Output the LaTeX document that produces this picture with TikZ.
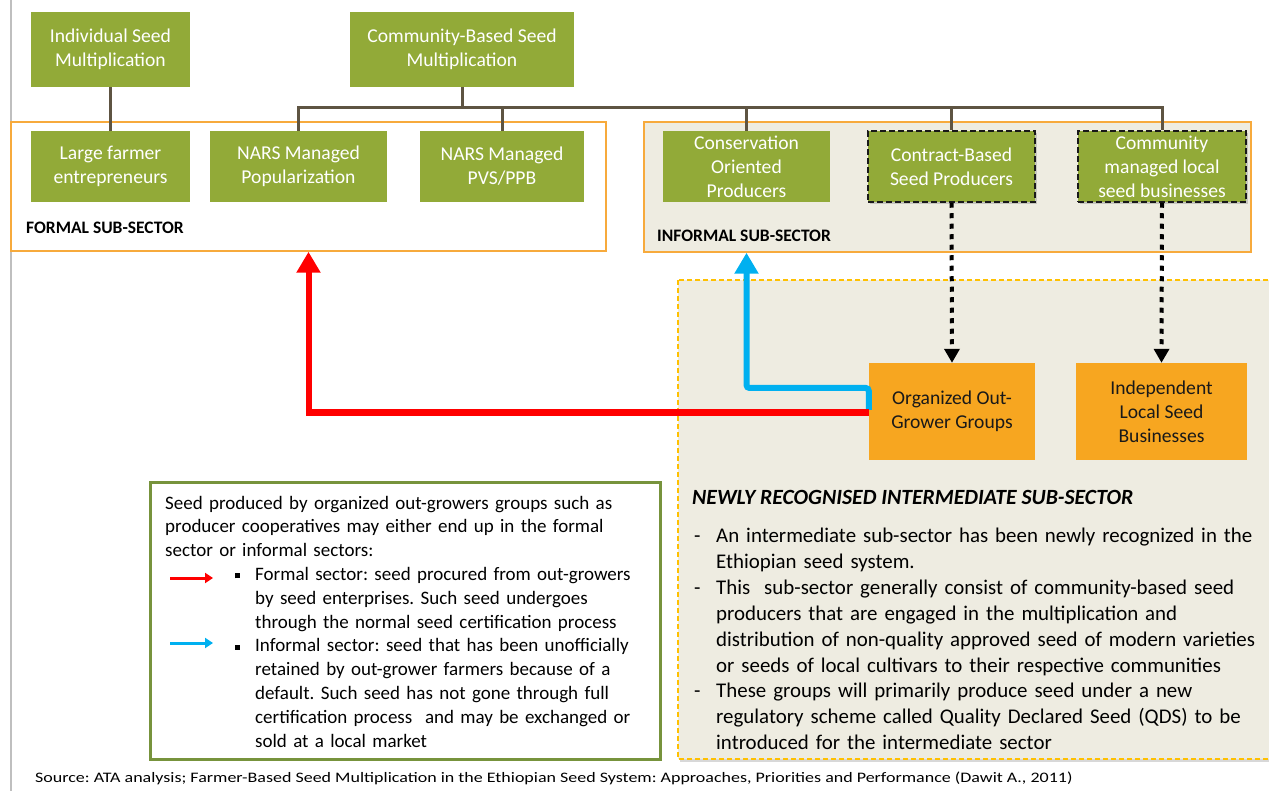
\documentclass[tikz,border=0pt]{standalone}
\usepackage{fontspec}
\setmainfont{Carlito}
\usepackage{xcolor}
\usepackage{tikz}
\usetikzlibrary{arrows.meta,shadows}

\definecolor{seedgreen}{RGB}{146,170,56}
\definecolor{legendgreen}{RGB}{119,147,60}
\definecolor{seedorange}{RGB}{247,166,32}
\definecolor{frameorange}{RGB}{247,170,60}
\definecolor{dashorange}{RGB}{255,192,0}
\definecolor{sectorbeige}{RGB}{238,236,225}
\definecolor{treebrown}{RGB}{94,84,66}
\definecolor{flowred}{RGB}{255,0,0}
\definecolor{flowblue}{RGB}{0,176,240}

\begin{document}
\frenchspacing
\begin{tikzpicture}[x=1pt, y=-1pt,
    boxfont/.style={font=\fontsize{19.6}{24}\selectfont},
    greenbox/.style={boxfont, fill=seedgreen, text=white, align=center, inner sep=0pt},
    orangebox/.style={boxfont, fill=seedorange, text=black!90, align=center, inner sep=0pt},
    dashbox/.style={draw=black!90, line width=1.5pt, dash pattern=on 6pt off 3pt,
        drop shadow={opacity=0.35, shadow xshift=2pt, shadow yshift=-2pt}},
    sector/.style={draw=frameorange, line width=1.5pt, inner sep=0pt},
    sectorlabel/.style={font=\fontsize{17.5}{20}\bfseries\selectfont, anchor=west, inner sep=0pt},
    tree/.style={draw=treebrown, line width=3pt},
    dotflow/.style={line width=4pt, dash pattern=on 5pt off 5.5pt, -{Triangle[width=15pt,length=14pt]}},
    redflow/.style={draw=flowred, line width=6pt, -{Triangle[width=23pt,length=21pt]}},
    blueflow/.style={draw=flowblue, line width=6pt, rounded corners=3pt, -{Triangle[width=23pt,length=21pt]}},
    bodytext/.style={inner sep=0pt, align=left, anchor=base west}
]
\useasboundingbox (0,0) rectangle (1269,791);
\fill[white] (0,0) rectangle (1269,791);
\draw[black!25, line width=2pt] (11,0) -- (11,791);

% sector frames
\node[sector, fill=white, minimum width=595pt, minimum height=129pt] (formal) at (308.5,186.5) {};
\node[sector, fill=sectorbeige, minimum width=607pt, minimum height=130pt] (informal) at (947.5,187) {};
\filldraw[draw=dashorange, fill=sectorbeige, line width=1.5pt, dash pattern=on 5pt off 3pt,
    drop shadow={opacity=0.3, shadow xshift=2pt, shadow yshift=-3pt}] (678,280) rectangle (1290,759);
\node[sectorlabel] (formallabel) at (26,228) {FORMAL SUB-SECTOR};
\node[sectorlabel] (informallabel) at (657,236) {INFORMAL SUB-SECTOR};

% green boxes
\node[greenbox, minimum width=159pt, minimum height=75pt] (indiv) at (110.5,49.5) {Individual Seed\\Multiplication};
\node[greenbox, minimum width=224pt, minimum height=75pt] (community) at (462,49.5) {Community-Based Seed\\Multiplication};
\node[greenbox, minimum width=159pt, minimum height=71pt] (large) at (110.5,166.5) {Large farmer\\entrepreneurs};
\node[greenbox, minimum width=177pt, minimum height=71pt] (narspop) at (298.5,166.5) {NARS Managed\\Popularization};
\node[greenbox, minimum width=164pt, minimum height=71pt] (narspvs) at (502,166.5) {NARS Managed\\PVS/PPB};
\node[greenbox, minimum width=167pt, minimum height=71pt] (conserv) at (746.5,166.5) {Conservation\\Oriented\\Producers};
\node[greenbox, dashbox, minimum width=167pt, minimum height=71pt] (contract) at (951.5,166.5) {Contract-Based\\Seed Producers};
\node[greenbox, dashbox, minimum width=168pt, minimum height=71pt] (localbiz) at (1162,166.5) {Community\\managed local\\seed businesses};

% orange boxes
\node[orangebox, minimum width=166pt, minimum height=97pt] (outgrower) at (952,411.5) {Organized Out-\\Grower Groups};
\node[orangebox, minimum width=171pt, minimum height=97pt] (independent) at (1161.5,411.5) {Independent\\Local Seed\\Businesses};

% tree
\coordinate (bus) at (462,108);
\draw[tree] (indiv.south) -- (large.north);
\draw[tree] (community.south) -- (bus);
\draw[tree] (narspop.north) |- (bus) -| (localbiz.north);
\draw[tree] (narspvs.north) -- (narspvs.north |- bus);
\draw[tree] (conserv.north) -- (conserv.north |- bus);
\draw[tree] (contract.north) -- (contract.north |- bus);

% flows
\draw[dotflow] (contract.south) -- (outgrower.north);
\draw[dotflow] (localbiz.south) -- (independent.north);
\draw[blueflow] ([yshift=1.5pt]outgrower.west) -- ++(0,-22) -| (conserv.south |- informal.south);
\draw[redflow] ([yshift=-1pt]outgrower.west) -| (formal.south);

% legend
\node[draw=legendgreen, line width=3pt, fill=white, minimum width=510pt, minimum height=277pt] (legend) at (405,620.5) {};
\node[bodytext, text width=500pt, font=\fontsize{19}{23.8}\selectfont] (legendtext) at (165,509) {%
Seed produced by organized out-growers groups such as\\
producer cooperatives may either end up in the formal\\
sector or informal sectors:\\
\hspace*{70pt}\makebox[20pt][l]{\rule[2pt]{5pt}{5pt}}Formal sector: seed procured from out-growers\\
\hspace*{90pt}by seed enterprises. Such seed undergoes\\
\hspace*{90pt}through the normal seed certification process\\
\hspace*{70pt}\makebox[20pt][l]{\rule[2pt]{5pt}{5pt}}Informal sector: seed that has been unofficially\\
\hspace*{90pt}retained by out-grower farmers because of a\\
\hspace*{90pt}default. Such seed has not gone through full\\
\hspace*{90pt}certification process\ \ and may be exchanged or\\
\hspace*{90pt}sold at a local market};
\draw[draw=flowred, line width=3pt, -{Triangle[width=10pt,length=8pt]}] (170,578) -- (213,578);
\draw[draw=flowblue, line width=3pt, -{Triangle[width=10pt,length=8pt]}] (170,643) -- (213,643);

% intermediate sub-sector text
\node[inner sep=0pt, anchor=base west, font=\fontsize{21.7}{24}\bfseries\itshape\selectfont] (newtitle) at (692,504) {NEWLY RECOGNISED INTERMEDIATE SUB-SECTOR};
\node[bodytext, text width=580pt, font=\fontsize{20.9}{25.9}\selectfont] (newtext) at (694,542.5) {%
\makebox[22pt][l]{-}An intermediate sub-sector has been newly recognized in the\\
\hspace*{22pt}Ethiopian seed system.\\
\makebox[22pt][l]{-}This\ \ sub-sector generally consist of community-based seed\\
\hspace*{22pt}producers that are engaged in the multiplication and\\
\hspace*{22pt}distribution of non-quality approved seed of modern varieties\\
\hspace*{22pt}or seeds of local cultivars to their respective communities\\
\makebox[22pt][l]{-}These groups will primarily produce seed under a new\\
\hspace*{22pt}regulatory scheme called Quality Declared Seed (QDS) to be\\
\hspace*{22pt}introduced for the intermediate sector};

% source
\node[inner sep=0pt, anchor=base west, font=\fontsize{14.5}{18}\selectfont] (source) at (35,782) {\scalebox{1.24}[1]{Source: ATA analysis; Farmer-Based Seed Multiplication in the Ethiopian Seed System: Approaches, Priorities and Performance (Dawit A., 2011)}};
\end{tikzpicture}
\end{document}
